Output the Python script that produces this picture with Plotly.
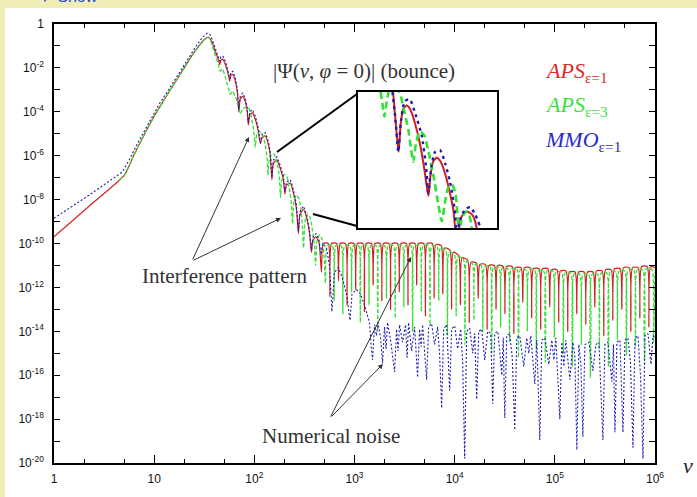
import numpy as np
import plotly.graph_objects as go

# ---------------- data (log10 v , log10 |Psi|) ----------------
red_rise = [(0.0, -9.7), (0.35, -8.3), (0.70, -6.9), (0.80, -5.95), (0.90, -5.05), (1.00, -4.2),
            (1.10, -3.45), (1.20, -2.72), (1.30, -2.0), (1.38, -1.42), (1.45, -0.98), (1.50, -0.72), (1.54, -0.60)]
red_bounce = [(1.575, -0.8), (1.61, -1.25), (1.64, -1.6), (1.655, -1.85), (1.665, -1.65), (1.685, -1.6),
              (1.715, -1.9), (1.74, -2.3), (1.755, -2.6), (1.765, -2.35), (1.785, -2.3), (1.81, -2.6),
              (1.83, -3.1), (1.845, -4.0), (1.86, -3.4), (1.885, -3.3), (1.91, -3.55), (1.928, -3.95),
              (1.94, -4.6), (1.955, -4.15), (1.98, -4.05), (2.01, -4.35), (2.04, -4.9), (2.06, -5.45),
              (2.08, -5.15), (2.11, -5.1), (2.14, -5.5), (2.16, -6.0), (2.175, -7.1), (2.19, -6.35),
              (2.225, -6.2), (2.26, -6.6), (2.29, -7.1), (2.305, -7.75), (2.32, -7.35), (2.36, -7.25),
              (2.39, -7.7), (2.42, -8.4), (2.44, -9.55), (2.455, -8.7), (2.49, -8.45), (2.52, -8.8),
              (2.55, -9.5), (2.57, -10.4), (2.585, -9.85), (2.615, -9.7), (2.645, -9.95), (2.67, -11.3)]
red_plateau = [(2.687, -10.0), (2.738, -10.0), (2.754, -12.4), (2.771, -10.0), (2.823, -10.0), (2.840, -11.7),
               (2.857, -10.0), (2.909, -10.0), (2.926, -12.8), (2.943, -10.0), (2.995, -10.0), (3.012, -12.1),
               (3.029, -10.0), (3.082, -10.0), (3.099, -13.1), (3.116, -10.0), (3.169, -10.0), (3.186, -11.9),
               (3.203, -10.0), (3.256, -10.0), (3.273, -12.6), (3.290, -10.0), (3.343, -10.0), (3.360, -13.0),
               (3.377, -10.0), (3.430, -10.0), (3.447, -12.2), (3.464, -10.0), (3.517, -10.0), (3.534, -12.8),
               (3.551, -10.0), (3.604, -10.0), (3.621, -11.9), (3.638, -10.0), (3.691, -10.0), (3.708, -13.3),
               (3.725, -10.0), (3.778, -10.0), (3.795, -12.5), (3.812, -10.05), (3.865, -10.1), (3.882, -12.3),
               (3.899, -10.2), (3.952, -10.3), (3.969, -13.0), (3.986, -10.4), (4.040, -10.55), (4.057, -12.8),
               (4.074, -10.65), (4.129, -10.75), (4.146, -13.6), (4.163, -10.85), (4.218, -10.9), (4.235, -12.5),
               (4.252, -10.95), (4.307, -10.95), (4.324, -13.9), (4.341, -11.0), (4.396, -11.0), (4.413, -13.0),
               (4.430, -11.0), (4.485, -11.05), (4.502, -13.2), (4.519, -11.05), (4.574, -11.05), (4.591, -14.1),
               (4.608, -11.1), (4.663, -11.1), (4.680, -12.7), (4.697, -11.1), (4.752, -11.1), (4.769, -13.4),
               (4.786, -11.15), (4.842, -11.15), (4.859, -13.9), (4.876, -11.15), (4.932, -11.15), (4.949, -12.9),
               (4.966, -11.2), (5.022, -11.2), (5.039, -13.6), (5.056, -11.25), (5.112, -11.25), (5.129, -14.0),
               (5.146, -11.3), (5.202, -11.3), (5.219, -13.2), (5.236, -11.3), (5.292, -11.3), (5.309, -13.7),
               (5.326, -11.3), (5.382, -11.3), (5.399, -12.9), (5.416, -11.25), (5.472, -11.25), (5.489, -14.2),
               (5.506, -11.2), (5.562, -11.2), (5.579, -13.5), (5.596, -11.15), (5.652, -11.15), (5.669, -13.0),
               (5.686, -11.1), (5.742, -11.1), (5.759, -14.0), (5.776, -11.1), (5.832, -11.1), (5.849, -13.4),
               (5.866, -11.05), (5.922, -11.05), (5.939, -13.8), (5.956, -11.05), (6.0, -11.1)]

green_rise = [(0.65, -7.1), (0.70, -6.9), (0.80, -5.95), (0.90, -5.05), (1.00, -4.2), (1.10, -3.45),
              (1.20, -2.72), (1.30, -2.0), (1.38, -1.42), (1.45, -0.98), (1.50, -0.72), (1.54, -0.60)]
green_bounce = [(1.57, -0.85), (1.60, -1.3), (1.64, -1.85), (1.66, -2.15), (1.68, -2.05), (1.71, -2.4),
                (1.74, -2.9), (1.76, -3.2), (1.78, -3.05), (1.81, -3.3), (1.84, -3.75), (1.86, -4.1),
                (1.88, -3.9), (1.91, -3.8), (1.94, -3.8), (1.97, -4.2), (1.995, -4.9), (2.01, -5.6),
                (2.025, -5.0), (2.05, -4.9), (2.07, -4.95), (2.10, -5.3), (2.125, -6.0), (2.137, -6.9),
                (2.15, -6.1), (2.175, -5.9), (2.20, -5.95), (2.23, -6.4), (2.25, -7.0), (2.262, -7.9),
                (2.275, -7.1), (2.30, -6.85), (2.325, -6.95), (2.35, -7.5), (2.37, -8.2), (2.382, -9.1),
                (2.395, -8.1), (2.42, -7.8), (2.445, -7.95), (2.465, -8.5), (2.48, -9.2), (2.492, -10.2),
                (2.505, -9.0), (2.53, -8.65), (2.555, -8.8), (2.58, -9.4), (2.60, -10.1), (2.612, -11.0),
                (2.625, -9.9), (2.65, -9.6), (2.675, -9.8), (2.695, -10.5), (2.71, -11.8)]
green_plateau = [(2.727, -10.1), (2.78, -10.1), (2.797, -12.6), (2.814, -10.1), (2.867, -10.1), (2.884, -13.2),
                 (2.901, -10.1), (2.954, -10.1), (2.971, -12.2), (2.988, -10.1), (3.041, -10.1), (3.058, -13.6),
                 (3.075, -10.1), (3.128, -10.1), (3.145, -12.8), (3.162, -10.1), (3.215, -10.1), (3.232, -13.9),
                 (3.249, -10.1), (3.302, -10.1), (3.319, -12.5), (3.336, -10.1), (3.389, -10.1), (3.406, -13.4),
                 (3.423, -10.1), (3.476, -10.1), (3.493, -12.9), (3.510, -10.1), (3.563, -10.1), (3.580, -14.0),
                 (3.597, -10.1), (3.650, -10.1), (3.667, -13.1), (3.684, -10.1), (3.737, -10.1), (3.754, -13.7),
                 (3.771, -10.1), (3.824, -10.15), (3.841, -12.6), (3.858, -10.2), (3.911, -10.3), (3.928, -14.2),
                 (3.945, -10.4), (3.998, -10.5), (4.015, -13.3), (4.032, -10.6), (4.086, -10.7), (4.103, -14.6),
                 (4.120, -10.8), (4.175, -10.9), (4.192, -13.5), (4.209, -10.95), (4.264, -11.0), (4.281, -14.0),
                 (4.298, -11.05), (4.353, -11.05), (4.370, -15.0), (4.387, -11.1), (4.442, -11.1), (4.459, -13.8),
                 (4.476, -11.1), (4.531, -11.15), (4.548, -14.5), (4.565, -11.15), (4.620, -11.15), (4.637, -15.2),
                 (4.654, -11.2), (4.709, -11.2), (4.726, -14.0), (4.743, -11.2), (4.798, -11.2), (4.815, -14.8),
                 (4.832, -11.25), (4.888, -11.25), (4.905, -15.4), (4.922, -11.25), (4.978, -11.25), (4.995, -14.3),
                 (5.012, -11.3), (5.068, -11.3), (5.085, -15.0), (5.102, -11.35), (5.158, -11.35), (5.175, -15.6),
                 (5.192, -11.4), (5.248, -11.4), (5.265, -14.6), (5.282, -11.4), (5.338, -11.4), (5.355, -16.1),
                 (5.372, -11.4), (5.428, -11.4), (5.445, -14.8), (5.462, -11.35), (5.518, -11.35), (5.535, -15.6),
                 (5.552, -11.3), (5.608, -11.3), (5.625, -14.4), (5.642, -11.25), (5.698, -11.25), (5.715, -15.1),
                 (5.732, -11.2), (5.788, -11.2), (5.805, -14.7), (5.822, -11.2), (5.878, -11.2), (5.895, -15.5),
                 (5.912, -11.15), (5.968, -11.15), (5.985, -14.5), (6.0, -11.3)]

blue_rise = [(0.0, -8.85), (0.35, -7.8), (0.68, -6.75), (0.75, -6.2), (0.85, -5.3), (0.95, -4.45),
             (1.05, -3.65), (1.15, -2.95), (1.25, -2.22), (1.35, -1.5), (1.42, -1.0), (1.48, -0.62),
             (1.53, -0.42), (1.56, -0.5)]
blue_bounce = [(1.575, -0.65), (1.61, -1.1), (1.64, -1.45), (1.655, -1.7), (1.665, -1.5), (1.685, -1.45),
               (1.715, -1.75), (1.74, -2.15), (1.755, -2.5), (1.765, -2.2), (1.785, -2.15), (1.81, -2.45),
               (1.83, -2.95), (1.845, -3.9), (1.86, -3.25), (1.885, -3.15), (1.91, -3.4), (1.928, -3.8),
               (1.94, -4.5), (1.955, -4.0), (1.98, -3.9), (2.01, -4.2), (2.04, -4.75), (2.06, -5.4),
               (2.08, -5.0), (2.11, -4.95), (2.14, -5.35), (2.16, -5.85), (2.175, -7.0), (2.19, -6.2),
               (2.225, -6.05), (2.26, -6.45), (2.29, -6.95), (2.305, -7.65), (2.32, -7.2), (2.36, -7.1),
               (2.39, -7.55), (2.42, -8.25), (2.44, -9.45), (2.455, -8.55), (2.49, -8.3), (2.52, -8.65),
               (2.55, -9.35), (2.57, -10.3), (2.585, -9.7), (2.615, -9.55), (2.645, -9.8), (2.665, -10.5),
               (2.685, -10.0), (2.72, -10.2), (2.75, -11.0), (2.775, -13.1), (2.80, -11.3), (2.84, -11.1),
               (2.88, -11.6), (2.92, -12.3), (2.955, -13.5), (2.975, -12.3), (3.02, -12.1), (3.06, -12.3),
               (3.10, -12.8), (3.13, -13.3)]
blue_noise = [(3.15, -13.6), (3.165, -14.6), (3.18, -15.3), (3.20, -13.7), (3.22, -14.2), (3.235, -13.6),
              (3.26, -14.3), (3.28, -15.45), (3.30, -13.8), (3.315, -14.8), (3.33, -13.6), (3.36, -14.4),
              (3.40, -15.85), (3.42, -13.9), (3.435, -14.9), (3.45, -13.7), (3.48, -14.5), (3.51, -13.7),
              (3.525, -15.2), (3.54, -13.6), (3.57, -14.9), (3.60, -13.8), (3.63, -16.1), (3.65, -13.9),
              (3.665, -14.7), (3.68, -13.7), (3.72, -16.2), (3.74, -13.8), (3.77, -13.65), (3.80, -14.6),
              (3.83, -13.8), (3.85, -15.1), (3.87, -17.5), (3.89, -13.9), (3.92, -13.7), (3.95, -16.7),
              (3.97, -13.9), (4.00, -13.75), (4.03, -14.8), (4.06, -13.9), (4.08, -15.4), (4.10, -19.8),
              (4.12, -14.0), (4.15, -13.85), (4.18, -15.0), (4.20, -14.1), (4.22, -17.1), (4.24, -14.0),
              (4.27, -13.9), (4.30, -15.3), (4.33, -14.0), (4.36, -14.1), (4.38, -17.3), (4.40, -14.1),
              (4.43, -14.0), (4.45, -14.9), (4.47, -16.0), (4.485, -14.3), (4.50, -17.95), (4.52, -14.2),
              (4.55, -14.1), (4.575, -15.2), (4.60, -18.5), (4.62, -14.3), (4.65, -14.2), (4.69, -15.6),
              (4.72, -14.3), (4.74, -15.0), (4.76, -14.2), (4.80, -16.4), (4.82, -14.4), (4.85, -18.95),
              (4.87, -14.4), (4.90, -14.3), (4.94, -15.5), (4.97, -14.4), (4.99, -15.3), (5.01, -14.3),
              (5.05, -18.0), (5.07, -14.5), (5.09, -15.6), (5.11, -14.4), (5.15, -16.2), (5.18, -14.5),
              (5.20, -15.1), (5.22, -19.4), (5.24, -14.6), (5.26, -15.5), (5.28, -18.8), (5.30, -14.6),
              (5.34, -14.5), (5.38, -15.8), (5.41, -14.6), (5.44, -14.5), (5.46, -16.6), (5.48, -18.95),
              (5.50, -14.6), (5.53, -14.5), (5.57, -16.3), (5.585, -14.6), (5.60, -18.6), (5.62, -14.5),
              (5.65, -14.4), (5.68, -18.6), (5.70, -14.4), (5.73, -14.3), (5.755, -15.4), (5.78, -19.3),
              (5.80, -14.3), (5.83, -14.2), (5.855, -16.0), (5.88, -19.8), (5.90, -14.2), (5.93, -14.1),
              (5.96, -15.5), (5.98, -14.2), (6.0, -14.3)]

# inset (magnified bounce region)
inset_red = [(2.001, -4.0), (2.006, -4.46), (2.013, -5.06), (2.017, -5.32), (2.023, -4.69), (2.030, -4.39),
             (2.040, -4.30), (2.051, -4.39), (2.064, -4.69), (2.078, -5.13), (2.090, -5.66), (2.100, -6.18),
             (2.103, -6.29), (2.109, -5.81), (2.117, -5.52), (2.127, -5.45), (2.138, -5.54), (2.151, -5.81),
             (2.163, -6.18), (2.175, -6.63), (2.182, -7.1), (2.188, -7.1), (2.196, -6.79), (2.206, -6.67),
             (2.215, -6.64), (2.228, -6.70), (2.237, -6.85), (2.244, -7.1)]
inset_blue = [(1.999, -4.0), (2.007, -4.54), (2.016, -5.32), (2.024, -4.61), (2.035, -4.20), (2.049, -4.16),
              (2.064, -4.46), (2.083, -4.95), (2.096, -5.66), (2.102, -6.22), (2.111, -5.66), (2.122, -5.32),
              (2.136, -5.28), (2.151, -5.58), (2.165, -5.99), (2.178, -6.59), (2.184, -7.1), (2.194, -6.81),
              (2.208, -6.59), (2.223, -6.54), (2.237, -6.70), (2.250, -6.94)]
inset_green = [(1.965, -4.0), (1.970, -4.24), (1.976, -4.54), (1.982, -4.24), (1.988, -4.0), (1.996, -3.79),
               (2.020, -4.01), (2.032, -4.39), (2.045, -4.84), (2.053, -5.28), (2.059, -5.54), (2.067, -5.13),
               (2.078, -4.87), (2.090, -4.95), (2.102, -5.28), (2.117, -5.84), (2.131, -6.48), (2.141, -6.85),
               (2.151, -6.40), (2.160, -6.10), (2.170, -6.04), (2.180, -6.22), (2.186, -6.70), (2.190, -7.1),
               (2.199, -6.78), (2.211, -6.63), (2.221, -6.74), (2.229, -7.1)]

x_tick_vals = [1, 10, 100, 1e3, 1e4, 1e5, 1e6]
x_tick_text = ["1", "10", "10<sup>2</sup>", "10<sup>3</sup>", "10<sup>4</sup>", "10<sup>5</sup>", "10<sup>6</sup>"]
x_minor_vals = [2, 5, 20, 50, 200, 500, 2e3, 5e3, 2e4, 5e4, 2e5, 5e5]
y_tick_vals = [1, 1e-2, 1e-4, 1e-6, 1e-8, 1e-10, 1e-12, 1e-14, 1e-16, 1e-18, 1e-20]
y_tick_text = ["1", "10<sup>-2</sup>", "10<sup>-4</sup>", "10<sup>-6</sup>", "10<sup>-8</sup>", "10<sup>-10</sup>",
               "10<sup>-12</sup>", "10<sup>-14</sup>", "10<sup>-16</sup>", "10<sup>-18</sup>", "10<sup>-20</sup>"]
y_minor_vals = [1e-1, 1e-3, 1e-5, 1e-7, 1e-9, 1e-11, 1e-13, 1e-15, 1e-17, 1e-19]

# ---------------- styling ----------------
W, H = 697, 497
L, R, T, B = 54, 655, 24, 463
RED, GREEN, BLUE = "#d21e1e", "#33e033", "#1c1cb0"
SERIF = "Liberation Serif, DejaVu Serif, serif"
SANS = "Liberation Sans, Arial, sans-serif"


def to_xy(*parts):
    pts = [p for part in parts for p in part]
    lv = np.array([p[0] for p in pts])
    lp = np.array([p[1] for p in pts])
    return np.power(10.0, lv), np.power(10.0, lp)


def px(xp):
    return (xp - L) / (R - L)


def py(yp):
    return (B - yp) / (B - T)


fig = go.Figure()

x, y = to_xy(red_rise, red_bounce, red_plateau)
fig.add_trace(go.Scatter(x=x, y=y, mode="lines", line=dict(color=RED, width=1.2, shape="spline", smoothing=0.6),
                         hoverinfo="skip"))
x, y = to_xy(green_rise, green_bounce, green_plateau)
fig.add_trace(go.Scatter(x=x, y=y, mode="lines",
                         line=dict(color=GREEN, width=1.3, dash="4px,2px", shape="spline", smoothing=0.6),
                         hoverinfo="skip"))
x, y = to_xy(blue_rise, blue_bounce, blue_noise)
fig.add_trace(go.Scatter(x=x, y=y, mode="lines", line=dict(color=BLUE, width=1.1, dash="2px,2px"), hoverinfo="skip"))

x, y = to_xy(inset_red)
fig.add_trace(go.Scatter(x=x, y=y, xaxis="x2", yaxis="y2", mode="lines",
                         line=dict(color=RED, width=2, shape="spline", smoothing=0.6), hoverinfo="skip"))
x, y = to_xy(inset_green)
fig.add_trace(go.Scatter(x=x, y=y, xaxis="x2", yaxis="y2", mode="lines",
                         line=dict(color=GREEN, width=2.6, dash="7px,4px", shape="spline", smoothing=0.6),
                         hoverinfo="skip"))
x, y = to_xy(inset_blue)
fig.add_trace(go.Scatter(x=x, y=y, xaxis="x2", yaxis="y2", mode="lines",
                         line=dict(color=BLUE, width=2.4, dash="3px,4px", shape="spline", smoothing=0.6),
                         hoverinfo="skip"))

axis_common = dict(showline=True, linecolor="black", linewidth=1.5, mirror="allticks", ticks="inside",
                   tickcolor="black", tickwidth=1, showgrid=False, zeroline=False,
                   tickfont=dict(family=SANS, size=12, color="#111"))


def label(xp, yp, text, size, color, xanchor="center"):
    return dict(xref="paper", yref="paper", x=px(xp), y=py(yp), xanchor=xanchor, yanchor="middle",
                showarrow=False, text=text, font=dict(family=SERIF, size=size, color=color))


annotations = [
    label(364, 71, "|Ψ(<i>v</i>, <i>φ</i> = 0)| (bounce)", 21, "#333"),
    label(543, 72, "<i>APS</i><sub>ε=1</sub>", 22, "#da2a2a", "left"),
    label(543, 106, "<i>APS</i><sub>ε=3</sub>", 22, "#3ae23a", "left"),
    label(543, 141, "<i>MMO</i><sub>ε=1</sub>", 22, "#2a2ac8", "left"),
    label(224, 276, "Interference pattern", 21, "#333"),
    label(331, 436, "Numerical noise", 21, "#333"),
    label(688, 465, "<i>v</i>", 22, "#222"),
    dict(xref="paper", yref="paper", x=px(35), y=py(7), xanchor="left", yanchor="bottom", showarrow=False,
         text="▼ Show", font=dict(family=SANS, size=16, color="#1f4fd6")),
]
for hx, hy, tx, ty in [(249, 137, 192, 261), (281, 218, 192, 261), (383, 364, 330, 418), (411, 257, 330, 418)]:
    annotations.append(dict(xref="paper", yref="paper", x=px(hx), y=py(hy), ax=tx - hx, ay=ty - hy,
                            axref="pixel", ayref="pixel", text="", showarrow=True, arrowhead=2,
                            arrowsize=1, arrowwidth=1, arrowcolor="#333"))

shapes = [
    dict(type="rect", xref="paper", yref="paper", x0=px(5), x1=px(W + 5), y0=py(H + 5), y1=py(8),
         fillcolor="white", line=dict(width=0), layer="below"),
    dict(type="line", xref="paper", yref="paper", x0=px(277), y0=py(152), x1=px(357), y1=py(94),
         line=dict(color="black", width=2)),
    dict(type="line", xref="paper", yref="paper", x0=px(313), y0=py(214), x1=px(357), y1=py(226),
         line=dict(color="black", width=2)),
]

fig.update_layout(
    width=W, height=H,
    margin=dict(l=L, r=W - R, t=T, b=H - B, pad=0),
    paper_bgcolor="#f1edb6", plot_bgcolor="white",
    showlegend=False,
    xaxis=dict(type="log", range=[0, 6], domain=[0, 1], anchor="y", tickvals=x_tick_vals, ticktext=x_tick_text,
               ticklen=8, ticklabelstandoff=4,
               minor=dict(tickvals=x_minor_vals, ticks="inside", ticklen=4, tickcolor="black"), **axis_common),
    yaxis=dict(type="log", range=[-20, 0], domain=[0, 1], anchor="x", tickvals=y_tick_vals, ticktext=y_tick_text,
               ticklen=6, ticklabelstandoff=6,
               minor=dict(tickvals=y_minor_vals, ticks="inside", ticklen=6, tickcolor="black"), **axis_common),
    xaxis2=dict(type="log", range=[1.9, 2.3], domain=[px(358), px(497)], anchor="y2", showline=True,
                mirror=True, linecolor="black", linewidth=2, showticklabels=False, ticks="", showgrid=False,
                zeroline=False),
    yaxis2=dict(type="log", range=[-7, -4], domain=[py(228), py(92)], anchor="x2", showline=True,
                mirror=True, linecolor="black", linewidth=2, showticklabels=False, ticks="", showgrid=False,
                zeroline=False),
    annotations=annotations,
    shapes=shapes,
)

fig.write_html("out.html")
